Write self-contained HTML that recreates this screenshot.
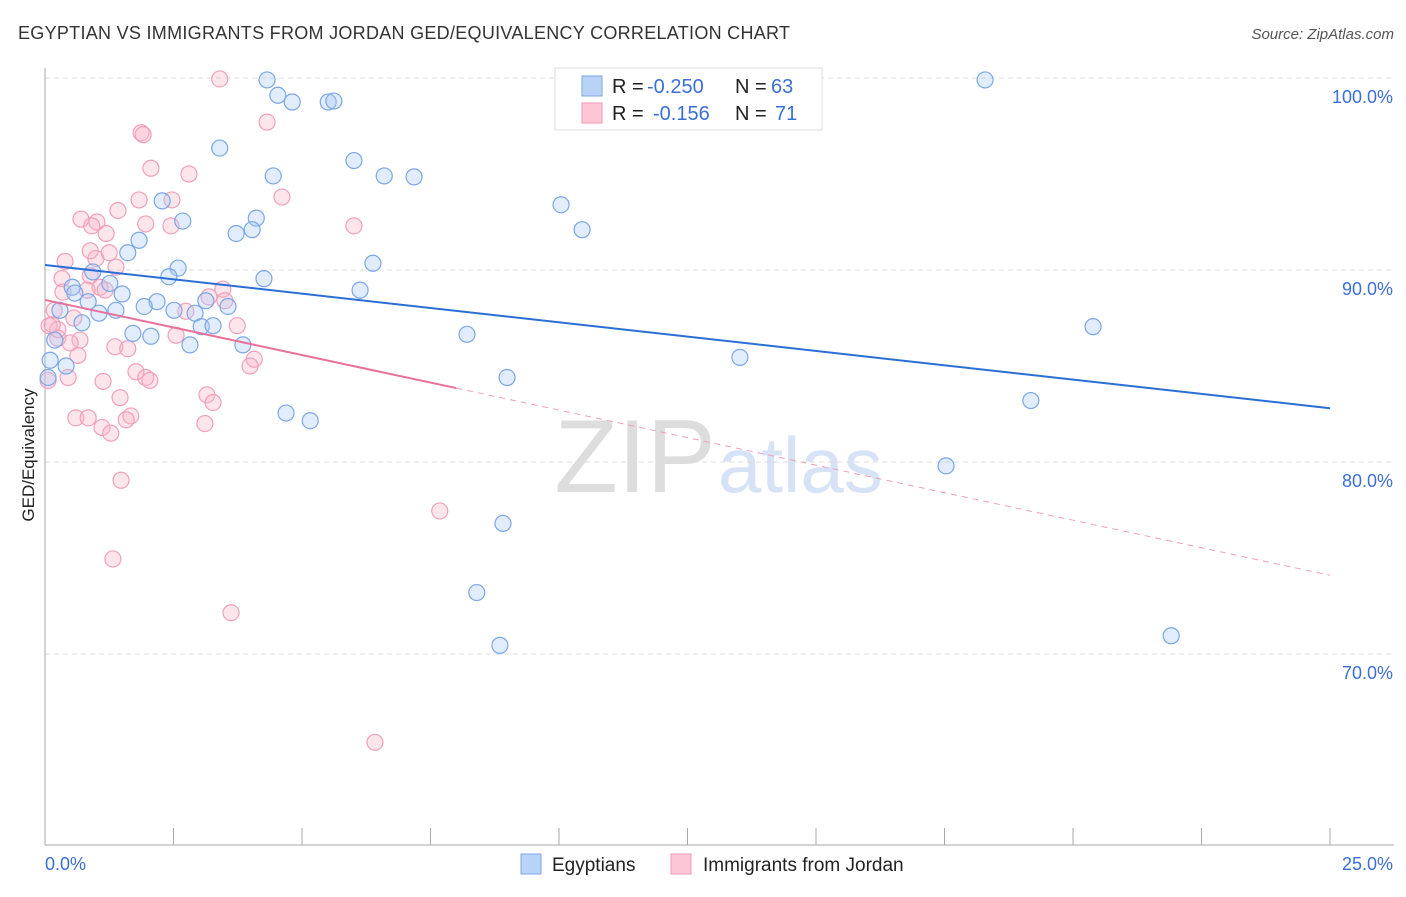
<!DOCTYPE html>
<html><head><meta charset="utf-8"><style>
body{margin:0;background:#fff;font-family:"Liberation Sans",sans-serif;}
svg text{font-family:"Liberation Sans",sans-serif;}
</style></head><body>
<svg id="chart" width="1406" height="892" xmlns="http://www.w3.org/2000/svg">
<text x="18" y="39" font-size="18" fill="#333" textLength="772">EGYPTIAN VS IMMIGRANTS FROM JORDAN GED/EQUIVALENCY CORRELATION CHART</text>
<text x="1394" y="39" font-size="15" fill="#555" font-style="italic" text-anchor="end">Source: ZipAtlas.com</text>
<text x="716" y="492" font-size="104" fill="#ddd" text-anchor="end" font-family="Liberation Serif">ZIP</text>
<text x="718" y="492" font-size="78" fill="#d6e2f5">atlas</text>
<text transform="translate(34,455) rotate(-90)" font-size="17" fill="#222" text-anchor="middle">GED/Equivalency</text>
<g id="grid"></g><g id="axes"></g><g id="marks"></g>
<g>
<rect x="555" y="68" width="267" height="62" fill="#fff" stroke="#ddd"/>
<rect x="582" y="76" width="20" height="20" fill="#b8d3f5" stroke="#7aa7e6"/>
<rect x="582" y="103" width="20" height="20" fill="#fcc6d6" stroke="#f09ab5"/>
<text x="612" y="93" font-size="20" fill="#222">R = <tspan x="647" fill="#3a6fd8">-0.250</tspan><tspan x="735">N = </tspan><tspan x="771" fill="#3a6fd8">63</tspan></text>
<text x="612" y="120" font-size="20" fill="#222">R = <tspan x="653" fill="#3a6fd8">-0.156</tspan><tspan x="735">N = </tspan><tspan x="775" fill="#3a6fd8">71</tspan></text>
</g>
<g>
<rect x="521" y="854" width="20" height="20" fill="#b8d3f5" stroke="#7aa7e6"/>
<text x="552" y="871" font-size="19" fill="#222">Egyptians</text>
<rect x="671" y="854" width="20" height="20" fill="#fcc6d6" stroke="#f09ab5"/>
<text x="703" y="871" font-size="19" fill="#222">Immigrants from Jordan</text>
</g>
</svg>
<script>
const yTicks=[100,90,80,70];
const xTickLabels=["0.0%","25.0%"];
const blueX=[4.32,4.53,4.81,5.51,5.62,18.29,3.40,6.01,4.44,6.60,7.18,2.28,2.68,4.11,4.03,3.72,10.04,10.45,1.83,1.61,2.59,2.41,4.26,0.93,6.38,6.13,1.26,0.53,0.58,1.50,0.84,2.18,3.13,1.93,1.38,1.05,2.51,2.92,3.56,0.72,3.04,3.27,1.71,2.06,8.21,20.39,2.82,3.85,13.52,0.19,0.10,0.41,8.99,0.06,19.18,4.69,5.16,17.53,8.91,8.40,8.85,21.91,0.29];
const blueY=[99.9,99.1,98.75,98.75,98.8,99.9,96.35,95.7,94.9,94.9,94.85,93.6,92.55,92.7,92.1,91.9,93.4,92.1,91.55,90.9,90.1,89.65,89.55,89.9,90.35,88.95,89.3,89.1,88.8,88.75,88.35,88.35,88.4,88.1,87.9,87.75,87.9,87.75,88.1,87.25,87.05,87.1,86.7,86.55,86.65,87.05,86.1,86.1,85.45,86.35,85.3,85.0,84.4,84.4,83.2,82.55,82.15,79.8,76.8,73.2,70.45,70.95,87.9];
const pinkX=[3.40,1.87,1.91,4.32,2.06,2.80,2.47,1.83,4.61,1.42,0.70,1.01,0.91,1.19,1.96,2.45,6.01,0.39,0.99,1.25,1.38,0.33,0.88,1.07,0.35,0.82,3.46,3.19,3.50,2.74,0.18,0.56,0.08,3.74,0.25,0.68,0.49,2.55,1.36,1.61,0.64,4.07,3.99,1.77,1.96,2.04,0.45,1.13,0.06,3.15,1.46,3.27,1.67,0.60,1.58,0.84,1.11,1.28,3.11,1.48,7.68,1.32,3.62,6.42,0.25,0.14,1.17,0.88];
const pinkY=[99.95,97.15,97.05,97.7,95.3,95.0,93.65,93.65,93.8,93.1,92.65,92.5,92.3,91.9,92.4,92.3,92.3,90.45,90.6,90.9,90.15,89.55,89.7,89.1,88.85,88.95,89.0,88.6,88.4,87.85,87.9,87.5,87.1,87.1,86.45,86.35,86.2,86.6,86.0,85.9,85.55,85.35,85.0,84.7,84.4,84.25,84.4,84.2,84.25,83.5,83.35,83.1,82.4,82.3,82.2,82.3,81.8,81.5,82.0,79.05,77.45,74.95,72.15,65.4,86.9,87.15,88.95,91.0];
const blueTrend=[90.26,82.8];
const pinkTrend=[88.44,83.85,74.1];
const NS="http://www.w3.org/2000/svg";
const sx=v=>45+v*51.4, sy=v=>78+(100-v)*19.2;
function mk(tag,attrs,parent){const e=document.createElementNS(NS,tag);for(const k in attrs)e.setAttribute(k,attrs[k]);document.getElementById(parent).appendChild(e);return e;}
yTicks.forEach(t=>{
 const l=mk('line',{x1:45,x2:1394,y1:sy(t),y2:sy(t),stroke:'#ddd','stroke-dasharray':'5,4'},'grid');
 
 
 const tx=mk('text',{x:1393,y:sy(t)+25,'font-size':18,fill:'#3a6fd8','text-anchor':'end'},'grid');
 tx.textContent=t.toFixed(1)+'%';
 
 
});
mk('line',{x1:45,x2:45,y1:68,y2:845,stroke:'#aaa'},'axes');
mk('line',{x1:45,x2:1394,y1:845,y2:845,stroke:'#aaa'},'axes');
for(let i=0;i<=10;i++){const t=mk('line',{x1:sx(i*2.5),x2:sx(i*2.5),y1:828,y2:845,stroke:'#aaa'},'axes');
 
 }
const xl0=mk('text',{x:45,y:870,'font-size':18,fill:'#3a6fd8'},'axes');xl0.textContent=xTickLabels[0];


const xl1=mk('text',{x:1393,y:870,'font-size':18,fill:'#3a6fd8','text-anchor':'end'},'axes');xl1.textContent=xTickLabels[1];


pinkX.forEach((x,i)=>{const c=mk('circle',{cx:sx(x),cy:sy(pinkY[i]),r:8,fill:'rgba(248,180,200,0.35)',stroke:'#f2a0ba','stroke-width':1.2},'marks');
 
 });
blueX.forEach((x,i)=>{const c=mk('circle',{cx:sx(x),cy:sy(blueY[i]),r:8,fill:'rgba(170,200,245,0.35)',stroke:'#7aa7e6','stroke-width':1.2},'marks');
 
 });
const bl=mk('line',{x1:sx(0),y1:sy(blueTrend[0]),x2:sx(25),y2:sy(blueTrend[1]),stroke:'#2a6fd6','stroke-width':2},'marks');


const pl=mk('line',{x1:sx(0),y1:sy(pinkTrend[0]),x2:sx(8),y2:sy(pinkTrend[1]),stroke:'#e8709a','stroke-width':2},'marks');


const pd=mk('line',{x1:sx(8),y1:sy(pinkTrend[1]),x2:sx(25),y2:sy(pinkTrend[2]),stroke:'#f0a0ba','stroke-width':1,'stroke-dasharray':'6,5'},'marks');


</script>
</body></html>
